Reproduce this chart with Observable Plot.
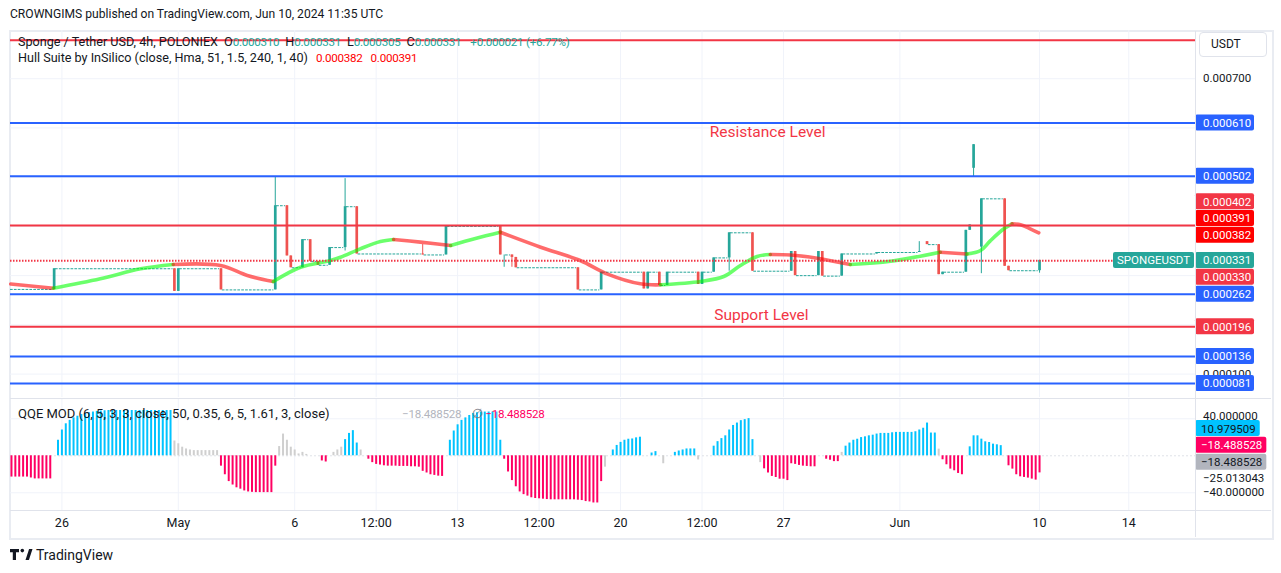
<!DOCTYPE html>
<html><head><meta charset="utf-8">
<script src="https://cdn.jsdelivr.net/npm/d3@7"></script>
<script src="https://cdn.jsdelivr.net/npm/@observablehq/plot@0.6"></script>
<style>
body{margin:0;background:#fff;font-family:Roboto,"Noto Sans",sans-serif;color:#131722}
#wrap{position:relative;width:1281px;height:573px;overflow:hidden;background:#fff}
.abs{position:absolute;white-space:nowrap}
.leg{font-size:12.6px;line-height:16px;color:#131722}
.val{font-size:11.6px;letter-spacing:-0.25px}
.gap{margin-left:6px}
svg.plot{overflow:visible}
</style></head><body><div id="wrap">
<div class="abs" style="left:10px;top:6px;font-size:12.1px;line-height:16px;color:#131722">CROWNGIMS published on TradingView.com, Jun 10, 2024 11:35 UTC</div>
<div class="abs" style="left:9px;top:30px;width:1261px;height:506px;border:2px solid #e9ecf2"></div>
</div>
<script>
// ---------- DATA (prices in millionths of USDT) ----------
const MICRO = 1e-6;
// [bar index (4h bars, 0 = Apr 26 00:00), open, high, low, close]
const candles = [
  [-2,272,314,272,314],[29,314,314,268,268],[30,268,314,268,314],[41,314,314,271,271],
  [55,271,500,271,442],[58,442,442,340,340],[59,340,340,316,316],[62,316,373,316,373],
  [64,373,373,329,329],[66,329,329,321,321],[69,321,357,321,357],[73,357,497,350,440],
  [76,440,440,344,344],[93,344,363,342,342],[99,342,400,342,400],[113,400,400,342,342],
  [114,342,342,317,342],[116,342,342,317,337],[117,337,337,316,316],[133,316,316,271,271],
  [139,271,307,271,307],[150,307,307,273,273],[151,273,307,273,307],[154,307,307,280,280],
  [156,280,307,280,307],[164,307,307,282,282],[165,282,307,282,307],[168,307,336,307,336],
  [172,336,387,309,387],[178,387,387,309,309],[188,309,349,309,349],[189,349,349,300,300],
  [195,300,349,300,349],[196,349,349,299,299],[201,299,344,299,344],[210,344,347,344,347],
  [221,347,369,347,349],[223,369,369,363,363],[226,363,363,302,302],[227,302,307,302,307],
  [233,307,392,307,392],[234,392,403,392,403],[235,518,566,501,566],[237,358,456,304,456],
  [243,456,456,319,319],[244,319,319,310,310],[252,310,331,305,331]
];
const prevClose = 310;
// horizontal drawing levels: [price, colour, dotted]
const levels = [
  [778,"#f23645",0],[610,"#2962ff",0],[502,"#2962ff",0],[402,"#f23645",0],[330,"#f23645",1],
  [262,"#2962ff",0],[196,"#f23645",0],[136,"#2962ff",0],[81,"#2962ff",0]
];
// Hull Suite band, trend segments: [trend, [[bar, price], ...]]
const hullSegments = [
  ["down",[[-13.2,283],[-2.2,274.5]]],
  ["up",[[-2.2,274.5],[9.9,293.6],[20.3,313.9],[28.7,322.6]]],
  ["down",[[28.7,322.6],[40.9,320.6],[47.8,300.3],[54.5,288.1]]],
  ["up",[[54.5,288.1],[61.5,317.1],[69.2,330.7],[71.8,337.4],[76.9,354.5],[82.1,369.3],[85.5,373.4]]],
  ["down",[[85.5,373.4],[92.4,368],[100.2,361.2]]],
  ["up",[[100.2,361.2],[106.6,375.4],[113,388.2]]],
  ["down",[[113,388.2],[123.4,357.8],[133.6,330.7],[140.5,303.7],[149.1,283.4],[154.3,281.4]]],
  ["up",[[154.3,281.4],[164.6,288.1],[170.6,298.2],[174.9,320.6],[179.2,338.9],[182.6,343]]],
  ["down",[[182.6,343],[187.8,342],[194.7,335.4],[203.2,322.6]]],
  ["up",[[203.2,322.6],[213.6,329.3],[226.4,347.6]]],
  ["down",[[226.4,347.6],[233.3,343.9]]],
  ["up",[[233.3,343.9],[236.8,351],[239.3,370.7],[242.8,395.1],[244.9,405.3]]],
  ["down",[[244.9,405.3],[247.1,403.2],[249.6,395.1],[251.8,387]]]
];
const hullLast = [382, 391];
const annotations = [[181.9,590.7,"Resistance Level"],[180.3,219,"Support Level"]];
const priceTicks = [100,200,300,400,500,600,700];
// QQE MOD histogram runs: [first bar, kind, values]
const qqeRuns = [
  [-13,"r",[-23,-23,-23,-23,-23,-24,-25,-25,-25,-25,-25]],
  [-1,"b",[16.8,27.9,34.6,38.3,41,42.8,44.7,45.8,46.5,47.3,48,48.4,48.7,49,49,49,49,49,49,49,49,49,49,49,49,49,49,49,49,49]],
  [29,"g",[16,13,9.3,7.4,6.3,5.6,5.6,5.6,5.6,5.6,5.6,5.6]],
  [41,"r",[-11.2,-20.5,-27.9,-31.6,-34.6,-36.1,-38,-39.1,-39.5,-39.8,-39.8,-39.8,-39.8,-39.8,-11.2]],
  [56,"g",[10,23.5,16.8,9.3,6.3,2,3.7,1.5]],
  [67,"r",[-5.6,-6.7]],
  [70,"g",[3.7,6.3,9.3]],
  [73,"b",[17.5,24.2,27.2,13.8]],
  [77,"g",[6.3]],
  [79,"r",[-3.7,-7.4,-9.3,-10,-10.8,-11.2,-11.2,-11.2,-11.5,-11.5,-11.5,-11.9,-11.9,-12.3,-16.8,-18.6,-20.5,-21.2,-22,-22.3]],
  [100,"b",[16.8,26.8,33.5,38.3,41,43.6,45.8,46.5,47.3,47.3,47.3,47.3,47.3,16.8]],
  [114,"r",[-3.7,-17.5,-26.8,-33.5,-39.1,-42,-43.6,-45.4,-46.2,-46.5,-46.9,-47.3,-47.6,-47.6,-47.6,-47.6,-47.6,-47.6,-47.6,-48,-48.4,-49.5,-49.9,-51,-51,-27.9]],
  [140,"g",[-12.3]],
  [142,"b",[6.3,11.2,14.5,16.8,17.9,18.2,19.4,20.1]],
  [152,"b",[3,4.5]],
  [155,"g",[-8.6]],
  [158,"b",[3.7,5.2,6.3,7.4,7.4,7.4]],
  [164,"g",[-4.5]],
  [168,"b",[10.4,15.3,18.6,21.6,27.9,32.8,35.4,38,39.1,40.2,17.5]],
  [180,"g",[-7.4]],
  [181,"r",[-14.1,-18.6,-22.3,-23.5,-25.3,-25.3,-26.8,-8.6,-9.3,-10.4,-11.2,-11.5,-11.9,-11.9]],
  [197,"r",[-3.7,-4.8,-6.3,-6.3]],
  [201,"g",[3.7]],
  [202,"b",[10.4,13.8,16.8,17.9,19.7,20.5,21.6,22.3,23.5,24.2,24.2,24.2,24.9,25.3,25.3,25.3,25.3,25.3,26,27.9,29.8,35.4,24.6,24.6]],
  [226,"g",[7.2]],
  [227,"r",[-4.3,-9.7,-14.4,-16.2,-19.1,-20.5]],
  [234,"b",[9.7,21.6,21.6,18,15.1,14.4,12.6,11.9,10.98]],
  [244,"r",[-10.8,-14.4,-20.5,-22.7,-23.4,-24.1,-25.2,-26.3,-18.49]]
];
const qqeLabels = {blue: 10.979509, pink: -18.488528, gray: -18.488528, plain: [40, -25.013043, -40]};
const xTicks = [[0,"26"],[30,"May"],[60,"6"],[81,"12:00"],[102,"13"],[123,"12:00"],[144,"20"],[165,"12:00"],[186,"27"],[216,"Jun"],[252,"10"],[275,"14"]];

// ---------- STYLE ----------
const TEAL="#26a69a", CRED="#ef5350", GREEN="#00ff00", HRED="#ff0000";
const QCOL={r:"#ff0062", b:"#00c3ff", g:"#cfcfcf"};
const GRID="#f0f3fa";
const xDomain=[-13.25, 292.2];
const FONT="Roboto, 'Noto Sans', sans-serif";
const wrap=document.getElementById("wrap");

const candleRows=candles.map(([i,o,h,l,c])=>({i,o:o*MICRO,h:h*MICRO,l:l*MICRO,c:c*MICRO,col:c>=o?TEAL:CRED}));
const flats=[{x1:xDomain[0],x2:candles[0][0]-0.35,p:candles[0][1]*MICRO}];
for(let k=0;k<candles.length-1;k++){
  const a=candles[k], b=candles[k+1];
  if(Math.abs(b[1]-a[4])<=1 && b[0]-a[0]>1) flats.push({x1:a[0]+0.35,x2:b[0]-0.35,p:a[4]*MICRO});
}
const hullRows=[];
hullSegments.forEach(([t,pts],si)=>pts.forEach(([i,p])=>hullRows.push({i,p:p*MICRO,seg:si,col:t==="up"?GREEN:HRED})));

const main=Plot.plot({
  width:1281,height:367,marginLeft:10,marginRight:86,marginTop:0,marginBottom:0,
  style:{fontFamily:FONT,fontSize:"12px",background:"transparent",overflow:"visible"},
  x:{domain:xDomain,axis:null},
  y:{domain:[52.5*MICRO,797.9*MICRO],axis:null},
  color:{type:"identity"},
  marks:[
    Plot.ruleY(priceTicks,{y:d=>d*MICRO,stroke:GRID}),
    Plot.ruleX(xTicks,{x:d=>d[0],stroke:GRID}),
    Plot.ruleY(flats,{y:"p",x1:"x1",x2:"x2",stroke:TEAL,strokeWidth:1,strokeDasharray:"2.7,1.18"}),
    Plot.ruleX(candleRows,{x:"i",y1:"l",y2:"h",stroke:"col",strokeWidth:1}),
    Plot.ruleX(candleRows,{x:"i",y1:"o",y2:"c",stroke:"col",strokeWidth:2.7}),
    Plot.line(hullRows,{x:"i",y:"p",z:"seg",stroke:"col",strokeWidth:3.6,strokeOpacity:0.58,curve:"catmull-rom"}),
    Plot.ruleY(levels.filter(d=>!d[2]),{y:d=>d[0]*MICRO,stroke:d=>d[1],strokeWidth:2}),
    Plot.ruleY(levels.filter(d=>d[2]),{y:d=>d[0]*MICRO,stroke:d=>d[1],strokeWidth:2,strokeDasharray:"1.5,1.5"}),
    Plot.text(annotations,{x:d=>d[0],y:d=>d[1]*MICRO,text:d=>d[2],fill:"#f23645",fontSize:15.5})
  ]
});
main.style.position="absolute";main.style.left="0px";main.style.top="30px";
wrap.appendChild(main);

const qqeRows=qqeRuns.flatMap(([s,k,vals])=>vals.map((v,j)=>({i:s+j,v,col:QCOL[k]})));
const qqe=Plot.plot({
  width:1281,height:141,marginLeft:10,marginRight:86,marginTop:2,marginBottom:27.3,
  style:{fontFamily:FONT,fontSize:"12px",background:"transparent",overflow:"visible"},
  x:{domain:xDomain,axis:null},
  y:{domain:[-59.9,60.86],axis:null},
  color:{type:"identity"},
  marks:[
    Plot.ruleX(xTicks,{x:d=>d[0],stroke:GRID}),
    Plot.ruleY([40,-40],{stroke:GRID}),
    Plot.ruleY([0],{stroke:"#dfe2e8",strokeDasharray:"2,2"}),
    Plot.ruleX(qqeRows,{x:"i",y1:0,y2:"v",stroke:"col",strokeWidth:2}),
    Plot.text(xTicks,{x:d=>d[0],text:d=>d[1],frameAnchor:"bottom",dy:16,fill:"#131722",fontSize:12.5})
  ]
});
qqe.style.position="absolute";qqe.style.left="0px";qqe.style.top="397px";
wrap.appendChild(qqe);

// ---------- chrome lines ----------
function line(l,t,w,h,c){const d=document.createElement("div");d.className="abs";Object.assign(d.style,{left:l+"px",top:t+"px",width:w+"px",height:h+"px",background:c});wrap.appendChild(d);}
line(10,397.5,1261,1.5,"#e0e3eb");
line(10,510,1261,1,"#e0e3eb");
line(1195,31,1,506,"#e0e3eb");

// ---------- price-scale labels ----------
function layout(items,gap){
  const placed=[];
  for(const it of items){
    let y=it.y0, moved=true, guard=0;
    while(moved&&guard++<50){moved=false;
      for(const p of placed){ if(Math.abs(y-p.y)<gap-0.01){ y=(it.v>=p.v)?p.y-gap:p.y+gap; moved=true; } } }
    it.y=y; placed.push(it);
  }
  return items;
}
const NS="http://www.w3.org/2000/svg";
function el(parent,tag,attrs,text){const e=document.createElementNS(NS,tag);for(const k in attrs)e.setAttribute(k,attrs[k]);if(text!=null)e.textContent=text;parent.appendChild(e);return e;}
function fmtP(v){return (v*MICRO).toFixed(6);}
function fmtQ(v){return (v<0?"\u2212":"")+Math.abs(v).toFixed(6);}

const ym=main.scale("y");
const lastC=candles[candles.length-1];
const mainBoxes=[
  {v:lastC[4],bg:TEAL,fg:"#fff",main:true},
  {v:hullLast[0],bg:"#ff0000",fg:"#fff"},
  {v:hullLast[1],bg:"#ff0000",fg:"#fff"},
  ...levels.filter(d=>d[0]<700).map(d=>({v:d[0],bg:d[1],fg:"#fff"}))
];
mainBoxes.forEach(b=>b.y0=ym.apply(b.v*MICRO));
layout(mainBoxes,16.8);
const gm=el(main,"g",{"font-family":FONT,"font-size":"11.5","text-anchor":"start"});
priceTicks.forEach(t=>{const y=ym.apply(t*MICRO); if(mainBoxes.every(b=>Math.abs(b.y-y)>=9)) el(gm,"text",{x:1203,y:y,"dominant-baseline":"central",fill:"#131722"},fmtP(t));});
mainBoxes.forEach(b=>{
  el(gm,"rect",{x:1195,y:b.y-8,width:59,height:16,rx:2,fill:b.bg});
  el(gm,"text",{x:1203,y:b.y+0.5,"dominant-baseline":"central",fill:b.fg},fmtP(b.v));
  if(b.main){el(gm,"rect",{x:1113,y:b.y-8,width:81,height:16,rx:2,fill:TEAL});el(gm,"text",{x:1117,y:b.y+0.5,"dominant-baseline":"central",fill:"#fff"},"SPONGEUSDT");}
});

const yq=qqe.scale("y");
const gq=el(qqe,"g",{"font-family":FONT,"font-size":"11.5","text-anchor":"start"});
const qItems=[
  {v:qqeLabels.plain[1],plain:true},
  {v:qqeLabels.gray,bg:"#b2b5be",fg:"#131722"},
  {v:qqeLabels.pink,bg:"#ff0062",fg:"#fff"},
  {v:qqeLabels.blue,bg:"#00c3ff",fg:"#131722"}
];
qItems.forEach(b=>b.y0=yq.apply(b.v));
layout(qItems,16.8);
[qqeLabels.plain[0],qqeLabels.plain[2]].forEach(v=>el(gq,"text",{x:1203,y:yq.apply(v)-(v>0?2:0),"dominant-baseline":"central",fill:"#131722"},fmtQ(v)));
qItems.forEach(b=>{
  if(b.plain){el(gq,"text",{x:1203,y:b.y,"dominant-baseline":"central",fill:"#131722"},fmtQ(b.v));return;}
  const r=el(gq,"rect",{x:1195,y:b.y-8,width:66,height:16,rx:2,fill:b.bg});
  const t=el(gq,"text",{x:1201,y:b.y+0.5,"dominant-baseline":"central",fill:b.fg},fmtQ(b.v));
  r.setAttribute("width",t.getComputedTextLength()+10);
});

// ---------- legends ----------
function html(s,l,t,extra){const d=document.createElement("div");d.className="abs leg";d.style.left=l+"px";d.style.top=t+"px";if(extra)Object.assign(d.style,extra);d.innerHTML=s;wrap.appendChild(d);return d;}
const tv=v=>`<span class="val" style="color:#26a69a">${fmtP(v)}</span>`;
const chg=lastC[4]-prevClose;
html(`Sponge / Tether USD, 4h, POLONIEX<span class="gap">O</span>${tv(lastC[1])}<span class="gap">H</span>${tv(lastC[2])}<span class="gap">L</span>${tv(lastC[3])}<span class="gap">C</span>${tv(lastC[4])}<span class="gap val" style="color:#26a69a;margin-left:9px">+${fmtP(chg)} (+${(chg/prevClose*100).toFixed(2)}%)</span>`,18,34);
html(`Hull Suite by InSilico (close, Hma, 51, 1.5, 240, 1, 40)<span class="val" style="color:#ff0000;margin-left:8px">${fmtP(hullLast[0])}</span><span class="val" style="color:#ff0000;margin-left:8px">${fmtP(hullLast[1])}</span>`,18,50);
html(`QQE MOD (6, 5, 3, 3, close, 50, 0.35, 6, 5, 1.61, 3, close)`,18,406,{fontSize:"13px"});
html(`<span class="val" style="color:#b2b5be">${fmtQ(qqeLabels.gray)}</span><span style="color:#787b86;margin-left:11px">\u2205</span><span class="val" style="color:#ff0062;margin-left:2px">${fmtQ(qqeLabels.pink)}</span>`,402,406);
html(`USDT`,1199,32,{width:"55px",height:"23px",lineHeight:"23px",paddingLeft:"11px",border:"1px solid #e0e3eb",borderRadius:"4px",fontSize:"12px"});
html(`<svg width="24" height="14" style="vertical-align:-2px"><path d="M0 1h9v3.2h-3v7.8h-3.2v-7.8h-2.8z" fill="#131722"/><circle cx="12.3" cy="2.6" r="1.8" fill="#131722"/><path d="M15.5 12l3.6-11h3.4l-3.6 11z" fill="#131722"/></svg><span style="font-size:14px;margin-left:2px">TradingView</span>`,10,547,{lineHeight:"16px"});
</script>
</body></html>
